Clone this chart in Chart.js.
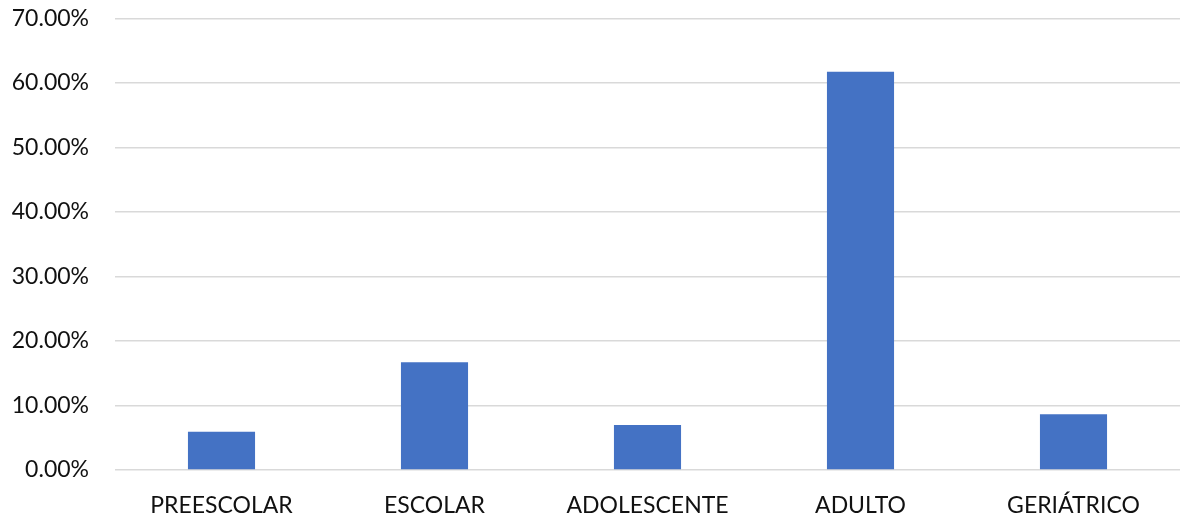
<!DOCTYPE html>
<html>
<head>
<meta charset="utf-8">
<script src="https://cdn.jsdelivr.net/npm/chart.js@4"></script>
<style>
  html, body { margin: 0; padding: 0; background: #fff; }
  #wrap { width: 1182px; height: 521px; position: relative; }
</style>
</head>
<body>
<div id="wrap"><canvas id="chart"></canvas></div>
<script>
// grupos de edad y porcentaje de casos
const categories = ["PREESCOLAR", "ESCOLAR", "ADOLESCENTE", "ADULTO", "GERIÁTRICO"];
const percentages = [5.94, 16.69, 6.98, 61.74, 8.65];
const yMax = 70;
const yStep = 10;

const tickFont = { family: "Lato, 'Open Sans', sans-serif", size: 23 };

new Chart(document.getElementById("chart"), {
    type: "bar",
    data: {
        labels: categories,
        datasets: [
            {
                data: percentages,
                backgroundColor: "#4472C4",
                borderWidth: 0,
                barPercentage: 1,
                categoryPercentage: 0.315
            }
        ]
    },
    options: {
        responsive: true,
        maintainAspectRatio: false,
        animation: false,
        layout: { padding: { top: 0, right: 2, left: 0, bottom: 0 } },
        plugins: {
            legend: { display: false },
            tooltip: { enabled: false }
        },
        scales: {
            y: {
                min: 0,
                max: yMax,
                border: { display: false },
                grid: { color: "#d9d9d9", lineWidth: 1.5, drawTicks: false },
                ticks: {
                    stepSize: yStep,
                    padding: 26,
                    color: "#111",
                    font: tickFont,
                    callback: value => value.toFixed(2) + "%"
                },
                afterFit: scale => {
                    scale.width = 115;
                    scale.paddingTop = 18.5;
                    scale.paddingBottom = 0;
                }
            },
            x: {
                border: { display: false },
                grid: { display: false, drawTicks: false },
                ticks: {
                    padding: 22,
                    color: "#111",
                    font: tickFont,
                    maxRotation: 0,
                    autoSkip: false
                },
                afterFit: scale => { scale.height = 51; }
            }
        }
    }
});
</script>
</body>
</html>
